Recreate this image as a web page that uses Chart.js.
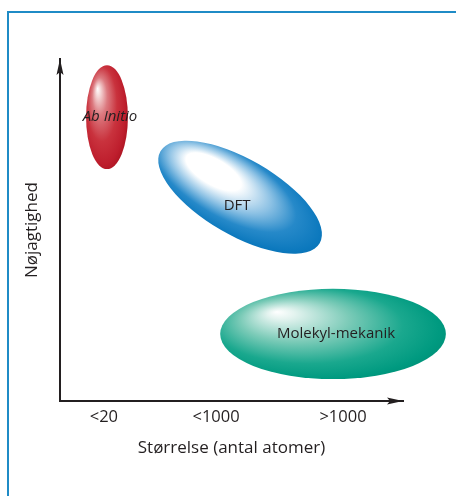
<!DOCTYPE html>
<html>
<head>
<meta charset="utf-8">
<script src="https://cdn.jsdelivr.net/npm/chart.js@4"></script>
<style>
  html, body { margin: 0; padding: 0; background: #fff; }
  body { width: 456px; height: 496px; position: relative; overflow: hidden; }
  .frame {
    position: absolute; left: 7px; top: 11px; right: -10px; bottom: -10px;
    border-left: 2px solid #1f8bc6; border-top: 2px solid #1f8bc6;
  }
  #wrap { position: absolute; left: 0; top: 0; width: 456px; height: 496px; }
</style>
</head>
<body>
<div class="frame"></div>
<div id="wrap"><canvas id="myChart" width="456" height="496"></canvas></div>
<script>
// methods and where they sit (size 0-100, accuracy 0-100)
const methods = ["Ab Initio", "DFT", "Molekyl-mekanik"];
const sizeTicks = [12.8, 45.5, 82.5];
const sizeLabels = ["<20", "<1000", ">1000"];
const centerSize = [13.7, 52.5, 79.6];
const centerAccuracy = [83.0, 59.6, 19.6];
const spreadSize = [6.1, 26.8, 32.9];
const spreadAccuracy = [15.2, 11.1, 13.2];

const ink = "#231f20";
const FONT = "'Open Sans', sans-serif";

// colour stops for each blob
const blobStyles = [
  { tilt: 0, hx: -0.45, hy: -0.55, italic: true, dx: 3, dy: 0,
    stops: [[0, "#ffffff"], [0.08, "#f6dcdc"], [0.3, "#dc7a80"], [0.6, "#c9323d"], [0.85, "#be1e2d"], [1, "#a8121f"]] },
  { tilt: 30, hx: -0.5, hy: -0.3, italic: false, dx: -3, dy: 9,
    stops: [[0, "#ffffff"], [0.28, "#ffffff"], [0.52, "#8cc1e4"], [0.72, "#2689c9"], [0.92, "#0b78bd"], [1, "#0a6fb0"]] },
  { tilt: 0, hx: -0.5, hy: -0.49, italic: false, dx: 3, dy: 0,
    stops: [[0, "#ffffff"], [0.1, "#e3f3ef"], [0.4, "#7ccbb8"], [0.7, "#1aa88e"], [0.9, "#009a80"], [1, "#008f76"]] },
];

const blobPlugin = {
  id: "blobs",
  afterDatasetsDraw(chart) {
    const ctx = chart.ctx;
    const xs = chart.scales.x;
    const ys = chart.scales.y;
    chart.data.datasets.forEach((ds, i) => {
      const pt = chart.getDatasetMeta(i).data[0];
      const st = blobStyles[i];
      const rx = xs.getPixelForValue(centerSize[i] + spreadSize[i]) - pt.x;
      const ry = ys.getPixelForValue(centerAccuracy[i] - spreadAccuracy[i]) - pt.y;

      ctx.save();
      ctx.translate(pt.x, pt.y);
      ctx.rotate((st.tilt * Math.PI) / 180);
      ctx.scale(rx, ry);
      const g = ctx.createRadialGradient(st.hx, st.hy, 0, -0.1, -0.05, 1.2);
      st.stops.forEach((s) => g.addColorStop(s[0], s[1]));
      ctx.beginPath();
      ctx.arc(0, 0, 1, 0, Math.PI * 2);
      ctx.fillStyle = g;
      ctx.fill();
      ctx.restore();

      ctx.save();
      ctx.fillStyle = ink;
      ctx.font = (st.italic ? "italic " : "") + "15px " + FONT;
      ctx.textAlign = "center";
      ctx.textBaseline = "middle";
      ctx.fillText(methods[i], pt.x + st.dx, pt.y + st.dy);
      ctx.restore();
    });
  },
  afterDraw(chart) {
    // arrow heads on the axes
    const ctx = chart.ctx;
    const a = chart.chartArea;
    ctx.save();
    ctx.fillStyle = ink;
    ctx.beginPath();
    ctx.moveTo(60, a.top);
    ctx.lineTo(63.5, a.top + 16);
    ctx.lineTo(60, a.top + 13);
    ctx.lineTo(56.5, a.top + 16);
    ctx.closePath();
    ctx.fill();
    ctx.beginPath();
    ctx.moveTo(a.right, a.bottom);
    ctx.lineTo(a.right - 16, a.bottom + 3.5);
    ctx.lineTo(a.right - 13, a.bottom);
    ctx.lineTo(a.right - 16, a.bottom - 3.5);
    ctx.closePath();
    ctx.fill();
    ctx.restore();
  },
};

document.addEventListener("DOMContentLoaded", () => {
  const ctx = document.getElementById("myChart").getContext("2d");
  new Chart(ctx, {
    type: "scatter",
    data: {
      datasets: methods.map((m, i) => ({
        label: m,
        data: [{ x: centerSize[i], y: centerAccuracy[i] }],
        pointRadius: 0,
        pointHoverRadius: 0,
      })),
    },
    options: {
      responsive: false,
      animation: false,
      events: [],
      layout: { padding: { top: 59, right: 53, bottom: 38, left: 22 } },
      plugins: { legend: { display: false }, tooltip: { enabled: false } },
      scales: {
        x: {
          type: "linear",
          min: 0,
          max: 100,
          afterBuildTicks: (scale) => {
            scale.ticks = sizeTicks.map((v) => ({ value: v }));
          },
          afterFit: (scale) => {
            scale.height = 57;
          },
          grid: { display: false, drawTicks: false },
          border: { display: true, color: ink, width: 2 },
          ticks: {
            padding: 6,
            color: ink,
            font: { family: FONT, size: 16.5 },
            maxRotation: 0,
            autoSkip: false,
            callback: (v, i) => sizeLabels[i],
          },
          title: {
            display: true,
            text: "Størrelse (antal atomer)",
            color: ink,
            padding: 0,
            font: { family: FONT, size: 17 },
          },
        },
        y: {
          type: "linear",
          min: 0,
          max: 100,
          afterFit: (scale) => {
            scale.width = 38;
          },
          grid: { display: false, drawTicks: false },
          border: { display: true, color: ink, width: 2 },
          ticks: { display: false },
          title: {
            display: true,
            text: "Nøjagtighed",
            color: ink,
            padding: 0,
            font: { family: FONT, size: 17 },
          },
        },
      },
    },
    plugins: [blobPlugin],
  });
});
</script>
</body>
</html>
